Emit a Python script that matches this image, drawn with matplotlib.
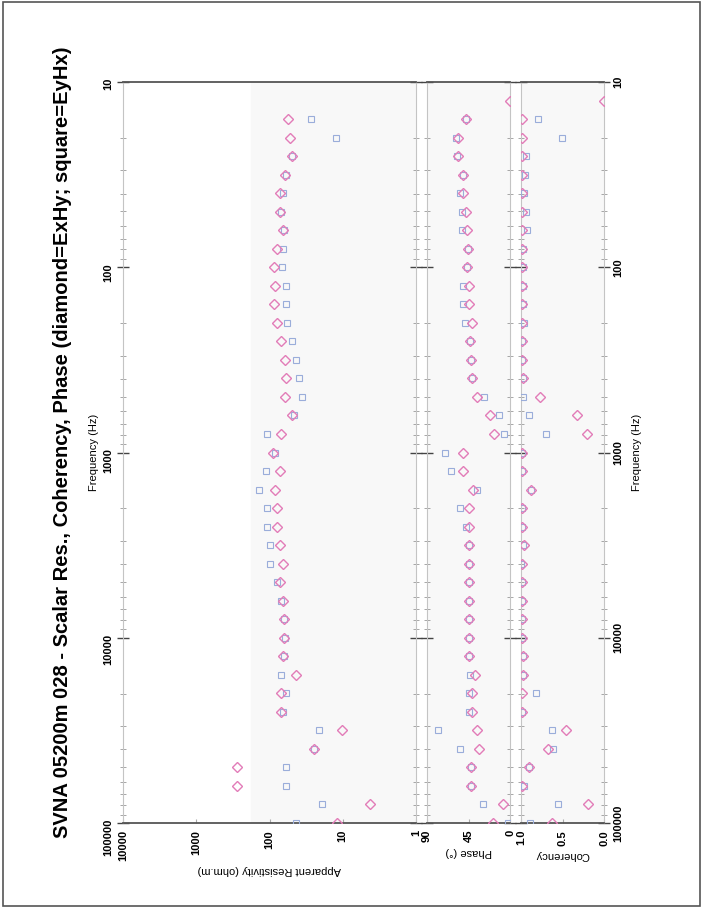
import numpy as np
import matplotlib
matplotlib.use('Agg')
import matplotlib.pyplot as plt
from matplotlib.patches import Rectangle

plt.rcParams['font.family'] = ['Liberation Sans', 'DejaVu Sans']

# frequencies (Hz), low to high
freq = [12.59, 15.85, 19.95, 25.12, 31.62, 39.81, 50.12, 63.10, 79.43, 100.0,
        125.9, 158.5, 199.5, 251.2, 316.2, 398.1, 501.2, 631.0, 794.3, 1000.0,
        1259, 1585, 1995, 2512, 3162, 3981, 5012, 6310, 7943, 10000,
        12589, 15849, 19953, 25119, 31623, 39811, 50119, 63096, 79433, 100000]

nan = float('nan')

# apparent resistivity (ohm.m)
res_xy = [nan, 56, 53, 50, 62, 71, 71, 66, 78, 88,
          85, 88, 78, 69, 62, 60, 62, 50, 69, 91,
          73, 83, 80, 78, 71, 66, 73, 66, 64, 64,
          66, 44, 69, 69, 10.3, 25, 275, 275, 4.3, 12]
res_yx = [nan, 27, 12.5, 49, 59, 66, 70, 64, 66, 68,
          59, 59, 57, 50, 44, 39, 36, 47, 107, 85,
          110, 137, 107, 107, 97, 97, 80, 69, 64, 61,
          64, 69, 59, 66, 21, 25, 60, 60, 19, 43]

# phase (degrees)
ph_xy = [0, 48, 56, 56, 50.5, 50.5, 48, 47, 46, 47,
         45, 45, 41, 43, 42, 41, 36, 22, 17.5, 51.5,
         50.5, 40.6, 45, 45, 45, 45, 45, 45, 45, 45,
         44, 38, 41, 41, 36, 34, 42, 42, 7.5, 18.6]
ph_yx = [nan, 48, 59, 57, 51, 54, 52, 52, 46, 47,
         50.5, 50.5, 49, 43, 42, 41, 28.5, 12, 6.5, 70,
         63.6, 36, 54, 48, 45, 45, 45, 45, 45, 45,
         44, 43, 45, 44, 78, 54, 42, 42, 29.6, 2]

# coherency
coh_xy = [0, 0.99, 0.99, 0.99, 0.99, 0.99, 0.99, 0.99, 0.99, 0.99,
          0.99, 0.99, 0.99, 0.99, 0.99, 0.98, 0.77, 0.32, 0.21, 0.99,
          0.99, 0.88, 0.99, 0.99, 0.96, 0.99, 0.99, 0.99, 0.99, 0.99,
          0.98, 0.98, 0.99, 0.99, 0.46, 0.68, 0.90, 0.99, 0.19, 0.63]
coh_yx = [nan, 0.80, 0.51, 0.94, 0.95, 0.96, 0.94, 0.93, 0.97, 0.98,
          0.97, 0.97, 0.96, 0.99, 0.99, 0.98, 0.98, 0.90, 0.70, 0.99,
          0.99, 0.88, 0.99, 0.99, 0.97, 1.0, 0.99, 0.99, 0.99, 0.99,
          0.98, 0.97, 0.82, 0.99, 0.63, 0.62, 0.90, 0.96, 0.56, 0.89]

freq_ticks = [10, 100, 1000, 10000, 100000]
freq_labels = ['10', '100', '1000', '10000', '100000']
res_ticks = [10000, 1000, 100, 10, 1]
res_labels = ['10000', '1000', '100', '10', '1']
ph_ticks = [90, 45, 0]
ph_labels = ['90', '45', '0']
coh_ticks = [1.0, 0.5, 0.0]
coh_labels = ['1.0', '0.5', '0.0']

title = 'SVNA 05200m 028 - Scalar Res., Coherency, Phase (diamond=ExHy; square=EyHx)'

W, H = 702, 909
fig = plt.figure(figsize=(W / 100, H / 100), dpi=100)


def box(x0, x1, y0=82, y1=823):
    return [x0 / W, 1 - y1 / H, (x1 - x0) / W, (y1 - y0) / H]


ax_res = fig.add_axes(box(123, 416))
ax_ph = fig.add_axes(box(427, 510))
ax_coh = fig.add_axes(box(521, 604))

dcol = '#e27cb8'
scol = '#9aadda'
for ax, a, b in [(ax_res, res_xy, res_yx), (ax_ph, ph_xy, ph_yx), (ax_coh, coh_xy, coh_yx)]:
    ax.plot(b, freq, 's', ms=4, mfc='none', mec=scol, mew=0.8, zorder=3)
    ax.plot(a, freq, 'D', ms=5, mfc='none', mec=dcol, mew=1.0, zorder=4)
    ax.set_yscale('log')
    ax.set_ylim(100000, 10)
    ax.set_yticks(freq_ticks, labels=freq_labels)
    ax.tick_params(axis='y', which='major', left=True, right=True, direction='inout',
                   length=9, width=1.0, color='#444444', labelleft=False, labelright=False,
                   labelsize=8, labelrotation=90, pad=2.5)
    ax.tick_params(axis='y', which='minor', left=True, right=True, direction='inout',
                   length=4, width=0.6, color='#999999')
    ax.tick_params(axis='x', which='both', direction='in', length=3, color='#aaaaaa',
                   labelsize=8, labelrotation=90, pad=5)
    for s in ['left', 'right']:
        ax.spines[s].set_color('#c4c4c4')
        ax.spines[s].set_linewidth(0.8)
    for s in ['top', 'bottom']:
        ax.spines[s].set_color('#555555')
        ax.spines[s].set_linewidth(1.3)

ax_res.set_xscale('log')
ax_res.set_xlim(10000, 1)
ax_res.axvspan(180, 1, color='#f8f8f8', zorder=0)
ax_res.set_xticks(res_ticks, labels=res_labels)
ax_res.xaxis.set_minor_locator(matplotlib.ticker.NullLocator())
ax_ph.set_xlim(90, 0)
ax_ph.set_xticks(ph_ticks, labels=ph_labels)
ax_ph.set_facecolor('#f8f8f8')
ax_coh.set_xlim(1, 0)
ax_coh.set_xticks(coh_ticks, labels=coh_labels)
ax_coh.set_facecolor('#f8f8f8')

ax_res.tick_params(axis='y', which='major', labelleft=True)
ax_coh.tick_params(axis='y', which='major', labelright=True)
for ax in (ax_res, ax_ph, ax_coh):
    for t in ax.get_xticklabels() + ax.get_yticklabels():
        t.set_fontweight('bold')
for t in ax_coh.yaxis.get_majorticklabels():
    t.set_va('center')

ax_res.set_ylabel('Frequency (Hz)', rotation=90, fontsize=8, labelpad=3)
ax_coh.yaxis.set_label_position('right')
ax_coh.set_ylabel('Frequency (Hz)', rotation=90, fontsize=8, labelpad=6)

ax_res.set_xlabel('Apparent Resistivity (ohm.m)', rotation=180, fontsize=8, labelpad=3)
ax_ph.set_xlabel('Phase (°)', rotation=180, fontsize=8, labelpad=3)
ax_coh.set_xlabel('Coherency', rotation=180, fontsize=8, labelpad=3)

fig.text(63 / W, 1 - 442 / H, title, rotation=90, ha='center', va='center',
         fontsize=14.5, fontweight='bold')

fig.patches.append(Rectangle((3 / W, 1 - 906 / H), 697 / W, 904 / H, transform=fig.transFigure,
                             fill=False, ec='#555555', lw=1.2))

fig.savefig('out.png', dpi=100)
